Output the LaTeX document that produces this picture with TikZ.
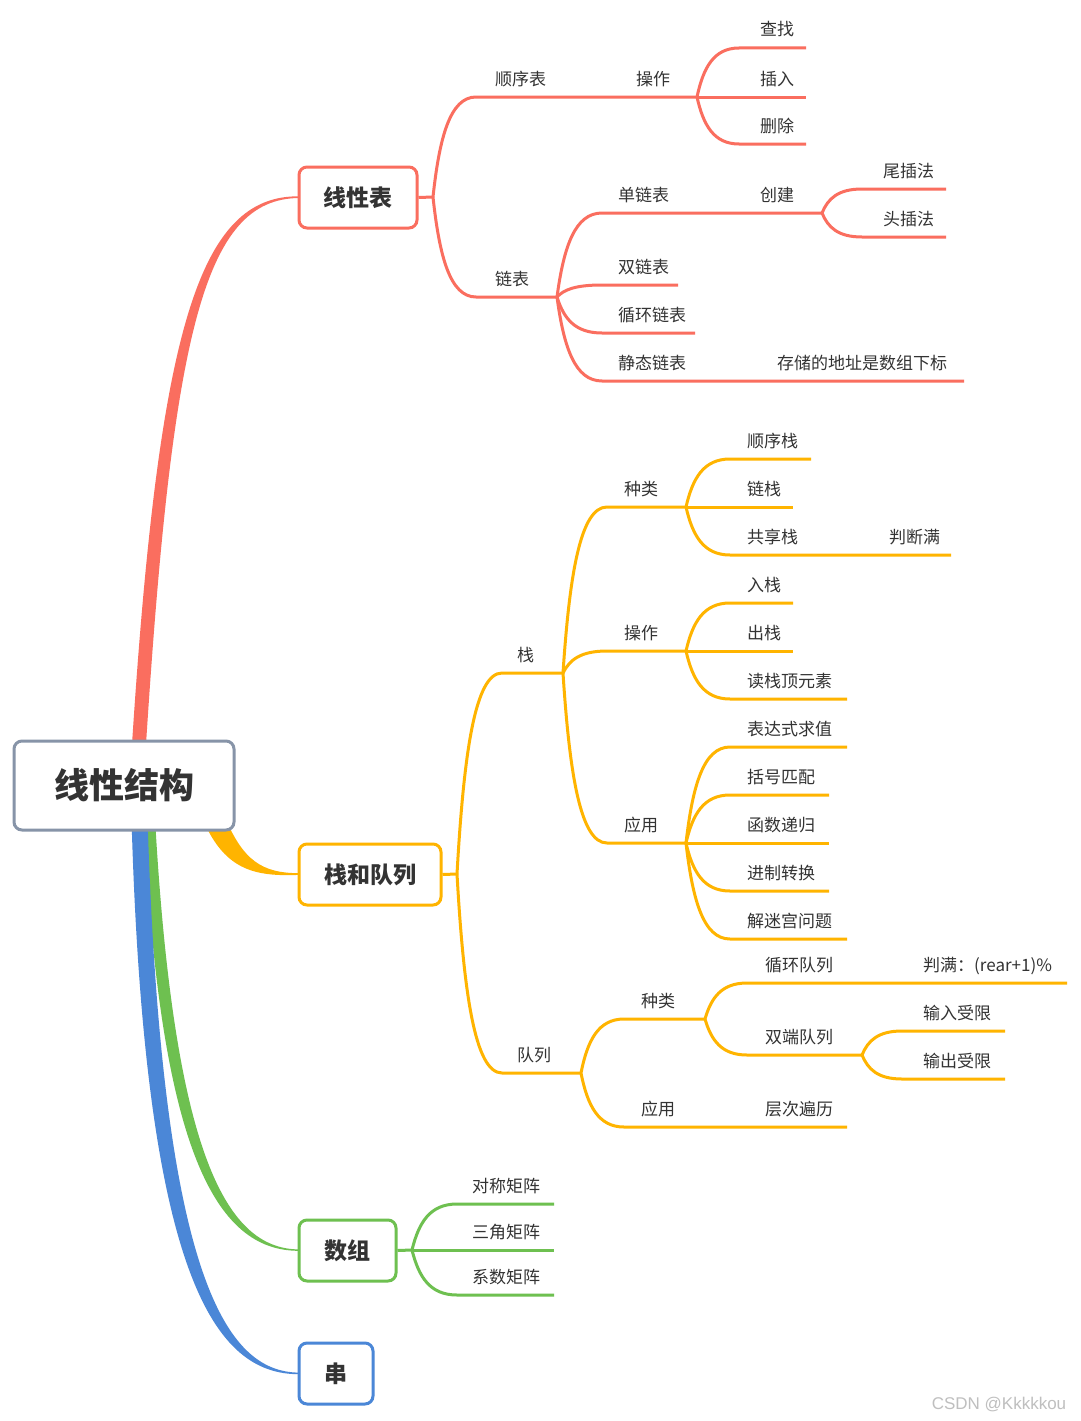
\documentclass[tikz,border=0pt]{standalone}
\usepackage{fontspec}
\usetikzlibrary{calc}
\setmainfont{Noto Sans CJK SC}
\newfontfamily\wmfont{Liberation Sans}
\definecolor{cred}{HTML}{FA6E5F}
\definecolor{corg}{HTML}{FFB400}
\definecolor{cgrn}{HTML}{6EC050}
\definecolor{cblu}{HTML}{4B87D7}
\definecolor{croot}{HTML}{8794A8}
\definecolor{txt}{HTML}{333333}
\tikzset{
  lab/.style={anchor=base west, inner sep=0pt, text=txt, font=\fontsize{17}{20}\selectfont},
  box/.style={draw, line width=3pt, rounded corners=8pt, fill=white, text=txt,
    font=\fontsize{23}{26}\selectfont\bfseries, minimum height=61pt, inner sep=0pt},
  rb/.style={draw=cred, line width=3pt},
  ob/.style={draw=corg, line width=3pt},
  gb/.style={draw=cgrn, line width=3pt},
}
\newcommand\br[5]{\draw[#1] let \p1=(#2) in (\p1)
  .. controls ({\x1+0.15*(#3pt-\x1)},{\y1+0.6*(-#4pt-\y1)}) and ({\x1+0.4*(#3pt-\x1)},-#4pt)
  .. (#3,-#4) -- (#5,-#4);}
\newcommand\lb[4]{\node[lab] (#1) at (#2,-#3+12) {#4};}
\begin{document}
\begin{tikzpicture}[x=1pt,y=1pt]
\useasboundingbox[fill=white] (0,0) rectangle (1080,-1421);

% main tapered branches
\fill[cred] (131,-760) .. controls (158,-330) and (198,-195.5) .. (299,-196.3)
  -- (299,-198) .. controls (204,-199) and (172,-330) .. (145,-760) -- cycle;
\fill[corg] (224,-815) .. controls (243,-861) and (262,-873) .. (299,-873.2)
  -- (299,-874.9) .. controls (256,-876.5) and (226,-871) .. (204,-822) -- cycle;
\fill[cgrn] (143,-800) .. controls (158,-1152) and (216,-1251) .. (299,-1250.8)
  -- (299,-1249.4) .. controls (224,-1249) and (172,-1148) .. (154,-800) -- cycle;
\fill[cblu] (131,-800) .. controls (143,-1282) and (216,-1374.2) .. (299,-1374.2)
  -- (299,-1372.6) .. controls (226,-1372) and (160,-1278) .. (147,-800) -- cycle;

% boxes
\node[box, draw=croot, minimum width=220pt, minimum height=89pt,
  font=\fontsize{35}{40}\selectfont\bfseries] (root) at (124,-785.5) {线性结构};
\node[box, draw=cred, minimum width=118pt] (t1) at (358,-197.5) {线性表};
\node[box, draw=corg, minimum width=142pt] (t2) at (370,-874.5) {栈和队列};
\node[box, draw=cgrn, minimum width=97pt] (t3) at (347.5,-1250.5) {数组};
\node[box, draw=cblu, minimum width=74pt] (t4) at (336,-1373.5) {串};

% ---- red subtree
\coordinate (b1) at (433,-197);
\draw[rb] (t1.east) -- (b1);
\br{rb}{b1}{476}{97}{697}
\coordinate (s1) at (697,-97);
\br{rb}{s1}{739}{48}{806}
\draw[rb] (s1) -- (806,-97);
\br{rb}{s1}{739}{144}{806}
\br{rb}{b1}{476}{297}{557}
\coordinate (s2) at (557,-297);
\br{rb}{s2}{602}{213}{822}
\coordinate (s3) at (822,-213);
\br{rb}{s3}{862}{189}{946}
\br{rb}{s3}{862}{237}{946}
\br{rb}{s2}{602}{285}{678}
\br{rb}{s2}{602}{333}{695}
\br{rb}{s2}{602}{381}{964}
\lb{n1}{495}{97}{顺序表}
\lb{n2}{636}{97}{操作}
\lb{n3}{760}{48}{查找}
\lb{n4}{760}{97}{插入}
\lb{n5}{760}{144}{删除}
\lb{n6}{495}{297}{链表}
\lb{n7}{618}{213}{单链表}
\lb{n8}{760}{213}{创建}
\lb{n9}{883}{189}{尾插法}
\lb{n10}{883}{237}{头插法}
\lb{n11}{618}{285}{双链表}
\lb{n12}{618}{333}{循环链表}
\lb{n13}{618}{381}{静态链表}
\lb{n14}{777}{381}{存储的地址是数组下标}

% ---- orange subtree
\coordinate (b2) at (457,-874);
\draw[ob] (t2.east) -- (b2);
\br{ob}{b2}{502}{673}{563}
\coordinate (s4) at (563,-673);
\br{ob}{s4}{607}{507}{686}
\coordinate (s5) at (686,-507);
\br{ob}{s5}{730}{459}{811}
\draw[ob] (s5) -- (793,-507);
\br{ob}{s5}{730}{555}{951}
\br{ob}{s4}{607}{651}{686}
\coordinate (s6) at (686,-651);
\br{ob}{s6}{730}{603}{793}
\draw[ob] (s6) -- (793,-651);
\br{ob}{s6}{730}{699}{847}
\br{ob}{s4}{607}{843}{686}
\coordinate (s7) at (686,-843);
\br{ob}{s7}{730}{747}{847}
\br{ob}{s7}{730}{795}{829}
\draw[ob] (s7) -- (829,-843);
\br{ob}{s7}{730}{891}{829}
\br{ob}{s7}{730}{939}{847}
\br{ob}{b2}{502}{1073}{581}
\coordinate (s8) at (581,-1073);
\br{ob}{s8}{624}{1019}{705}
\coordinate (s9) at (705,-1019);
\br{ob}{s9}{747}{983}{1067}
\br{ob}{s9}{747}{1055}{862}
\coordinate (s10) at (862,-1055);
\br{ob}{s10}{902}{1031}{1005}
\br{ob}{s10}{902}{1079}{1005}
\br{ob}{s8}{624}{1127}{847}
\lb{m1}{517}{673}{栈}
\lb{m2}{624}{507}{种类}
\lb{m3}{747}{459}{顺序栈}
\lb{m4}{747}{507}{链栈}
\lb{m5}{747}{555}{共享栈}
\lb{m6}{889}{555}{判断满}
\lb{m7}{624}{651}{操作}
\lb{m8}{747}{603}{入栈}
\lb{m9}{747}{651}{出栈}
\lb{m10}{747}{699}{读栈顶元素}
\lb{m11}{624}{843}{应用}
\lb{m12}{747}{747}{表达式求值}
\lb{m13}{747}{795}{括号匹配}
\lb{m14}{747}{843}{函数递归}
\lb{m15}{747}{891}{进制转换}
\lb{m16}{747}{939}{解迷宫问题}
\lb{m17}{517}{1073}{队列}
\lb{m18}{641}{1019}{种类}
\lb{m19}{765}{983}{循环队列}
\lb{m20}{923}{983}{判满：(rear+1)\%}
\lb{m21}{765}{1055}{双端队列}
\lb{m22}{923}{1031}{输入受限}
\lb{m23}{923}{1079}{输出受限}
\lb{m24}{641}{1127}{应用}
\lb{m25}{765}{1127}{层次遍历}

% ---- green subtree
\coordinate (b3) at (412,-1250);
\draw[gb] (t3.east) -- (b3);
\br{gb}{b3}{457}{1204}{554}
\draw[gb] (b3) -- (554,-1250);
\br{gb}{b3}{457}{1295}{554}
\lb{g1}{472}{1204}{对称矩阵}
\lb{g2}{472}{1250}{三角矩阵}
\lb{g3}{472}{1295}{系数矩阵}

% watermark
\node[text=black!25, font=\wmfont\fontsize{17}{20}\selectfont, inner sep=0pt] (wm) at (999,-1404) {CSDN @Kkkkkou};
\end{tikzpicture}
\end{document}
